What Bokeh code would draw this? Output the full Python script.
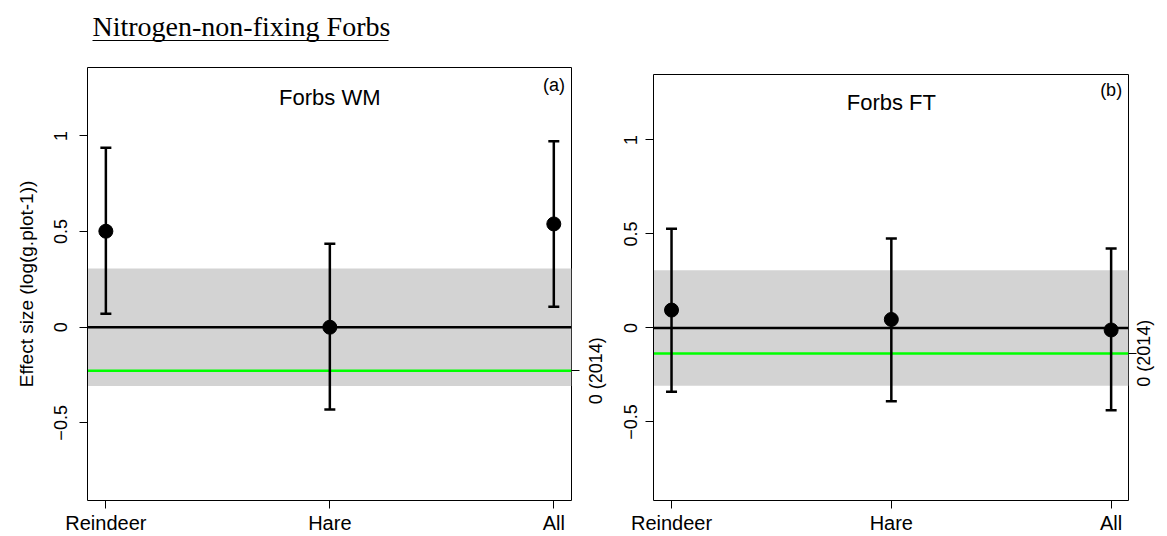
import math
from bokeh.plotting import figure
from bokeh.layouts import column, row
from bokeh.models import (Range1d, FixedTicker, LinearAxis, CustomJSTickFormatter,
                          BoxAnnotation, Span, ColumnDataSource, Spacer)
from bokeh.core.properties import value
from bokeh.embed import file_html
from bokeh.resources import INLINE

# ---------------- data ----------------
categories = ["Reindeer", "Hare", "All"]
xpos = [1, 2, 3]

wm_est = [0.502, 0.0, 0.540]
wm_lo = [0.071, -0.430, 0.107]
wm_hi = [0.939, 0.437, 0.972]

ft_est = [0.095, 0.045, -0.011]
ft_lo = [-0.339, -0.390, -0.438]
ft_hi = [0.528, 0.475, 0.422]

band_half = 0.307           # grey reference band (+/-)
wm_ref2014 = -0.228         # green "0 (2014)" line, panel (a)
ft_ref2014 = -0.136         # green "0 (2014)" line, panel (b)
ref_label = "0 (2014)"

y_ticks = [-0.5, 0, 0.5, 1]

SANS = "Liberation Sans"
SERIF = "Liberation Serif"
REF_LABEL_PX = 18
REF_LABEL_LEN = 3.724 * REF_LABEL_PX   # rendered length of "0 (2014)" in px


def make_panel(est, lo, hi, ref2014, panel_title, tag, width, height,
               border_left, border_right, border_top, border_bottom,
               y_range, show_ylabel, left_standoff, ref_standoff):
    p = figure(width=width, height=height, output_backend="svg",
               toolbar_location=None,
               x_range=Range1d(0.918, 3.079), y_range=Range1d(*y_range),
               min_border_left=border_left, min_border_right=border_right,
               min_border_top=border_top, min_border_bottom=border_bottom,
               x_axis_location=None, y_axis_location=None)
    p.grid.visible = False
    p.outline_line_color = "black"
    p.outline_line_width = 1
    p.background_fill_color = "white"
    p.border_fill_color = "white"

    # reference band and lines
    p.add_layout(BoxAnnotation(bottom=-band_half, top=band_half,
                               fill_color="#d3d3d3", fill_alpha=1.0,
                               line_color=None, level="underlay"))
    p.add_layout(Span(location=0, dimension="width", line_color="black",
                      line_width=2.5, level="underlay"))
    p.add_layout(Span(location=ref2014, dimension="width", line_color="#00ff00",
                      line_width=2.5, level="underlay"))

    src = ColumnDataSource(dict(x=xpos, est=est, lo=lo, hi=hi))
    p.segment(x0="x", x1="x", y0="lo", y1="hi", source=src,
              line_color="black", line_width=2.5)
    p.scatter(x="x", y="lo", source=src, marker="dash", size=11,
              line_color="black", line_width=2.5)
    p.scatter(x="x", y="hi", source=src, marker="dash", size=11,
              line_color="black", line_width=2.5)
    p.scatter(x="x", y="est", source=src, marker="circle", size=14,
              fill_color="black", line_color="black")

    # panel texts
    p.text(x=[2], y=[1.2], text=[panel_title], text_font=value(SANS),
           text_font_size="22px", text_align="center", text_baseline="middle",
           text_color="black")
    p.text(x=[3.05], y=[1.265], text=[tag], text_font=value(SANS),
           text_font_size="18px", text_align="right", text_baseline="middle",
           text_color="black")

    # bottom axis
    xa = LinearAxis(ticker=FixedTicker(ticks=xpos),
                    major_label_overrides={x: c for x, c in zip(xpos, categories)},
                    bounds=(1, 3))
    xa.major_label_text_font = SANS
    xa.major_label_text_font_size = "20px"
    xa.major_label_text_color = "black"
    xa.major_tick_in = 0
    xa.major_tick_out = 8
    xa.minor_tick_out = 0
    xa.minor_tick_in = 0
    xa.major_label_standoff = 3
    p.add_layout(xa, "below")

    # left axis
    ya = LinearAxis(ticker=FixedTicker(ticks=y_ticks), bounds=(-0.5, 1))
    ya.major_label_orientation = "vertical"
    ya.major_label_text_font = SANS
    ya.major_label_text_font_size = "18px"
    ya.major_label_text_color = "black"
    ya.major_tick_in = 0
    ya.major_tick_out = 8
    ya.minor_tick_out = 0
    ya.minor_tick_in = 0
    ya.major_label_standoff = left_standoff
    if show_ylabel:
        ya.axis_label = "Effect size (log(g.plot-1))"
        ya.axis_label_text_font = SANS
        ya.axis_label_text_font_size = "19px"
        ya.axis_label_text_font_style = "normal"
        ya.axis_label_text_color = "black"
        ya.axis_label_standoff = 15
    p.add_layout(ya, "left")

    # right axis 1: the tick mark at the 2014 reference
    ra = LinearAxis(ticker=FixedTicker(ticks=[ref2014]),
                    formatter=CustomJSTickFormatter(code="return ''"))
    ra.axis_line_color = None
    ra.major_tick_in = 0
    ra.major_tick_out = 8
    ra.minor_tick_out = 0
    ra.minor_tick_in = 0
    ra.major_label_standoff = 0
    ra.major_label_text_font_size = "1px"
    p.add_layout(ra, "right")

    # right axis 2: the rotated label, centred on the reference line
    units_per_px = (y_range[1] - y_range[0]) / (height - border_top - border_bottom)
    label_at = ref2014 - 0.5 * REF_LABEL_LEN * units_per_px
    rb = LinearAxis(ticker=FixedTicker(ticks=[label_at]),
                    formatter=CustomJSTickFormatter(code="return '%s'" % ref_label))
    rb.axis_line_color = None
    rb.major_tick_line_color = None
    rb.major_tick_in = 0
    rb.major_tick_out = 0
    rb.minor_tick_out = 0
    rb.minor_tick_in = 0
    rb.major_label_orientation = math.pi / 2
    rb.major_label_text_font = SANS
    rb.major_label_text_font_size = "%dpx" % REF_LABEL_PX
    rb.major_label_text_color = "black"
    rb.major_label_standoff = ref_standoff
    p.add_layout(rb, "right")
    return p


pa = make_panel(wm_est, wm_lo, wm_hi, wm_ref2014, "Forbs WM", "(a)",
                width=619, height=476, border_left=87, border_right=46,
                border_top=7, border_bottom=34, y_range=(-0.906, 1.358),
                show_ylabel=True, left_standoff=12, ref_standoff=17)
pb = make_panel(ft_est, ft_lo, ft_hi, ft_ref2014, "Forbs FT", "(b)",
                width=548, height=469, border_left=34, border_right=37,
                border_top=7, border_bottom=34, y_range=(-0.918, 1.348),
                show_ylabel=False, left_standoff=8, ref_standoff=8)

# title strip
t = figure(width=1167, height=60, output_backend="svg", toolbar_location=None,
           x_range=Range1d(0, 1167), y_range=Range1d(60, 0),
           min_border=0, x_axis_location=None, y_axis_location=None)
t.grid.visible = False
t.outline_line_color = None
t.text(x=[92], y=[26], text=["Nitrogen-non-fixing Forbs"], text_font=value(SERIF),
       text_font_size="28px", text_align="left", text_baseline="middle",
       text_color="black")
t.segment(x0=[92], x1=[388], y0=[40], y1=[40], line_color="black", line_width=1.2)

layout = column(t, row(pa, column(Spacer(width=548, height=7), pb)))
open("out.html", "w").write(file_html(layout, INLINE))
